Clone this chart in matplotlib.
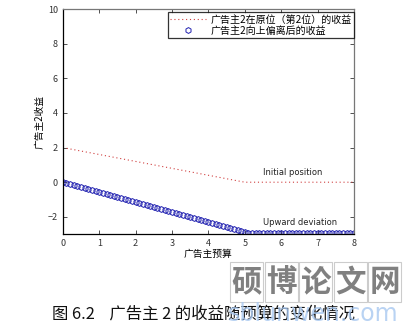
import numpy as np
import matplotlib
matplotlib.use("Agg")
import matplotlib.pyplot as plt
from matplotlib.patches import Rectangle

plt.rcParams['font.family'] = ['Noto Sans CJK SC', 'DejaVu Sans']

budget = np.round(np.arange(0, 8.001, 0.1), 2)

initial_rev = [2.00, 1.96, 1.92, 1.88, 1.84, 1.80, 1.76, 1.72, 1.68, 1.64,
               1.60, 1.56, 1.52, 1.48, 1.44, 1.40, 1.36, 1.32, 1.28, 1.24,
               1.20, 1.16, 1.12, 1.08, 1.04, 1.00, 0.96, 0.92, 0.88, 0.84,
               0.80, 0.76, 0.72, 0.68, 0.64, 0.60, 0.56, 0.52, 0.48, 0.44,
               0.40, 0.36, 0.32, 0.28, 0.24, 0.20, 0.16, 0.12, 0.08, 0.04,
               0.00, 0.00, 0.00, 0.00, 0.00, 0.00, 0.00, 0.00, 0.00, 0.00,
               0.00, 0.00, 0.00, 0.00, 0.00, 0.00, 0.00, 0.00, 0.00, 0.00,
               0.00, 0.00, 0.00, 0.00, 0.00, 0.00, 0.00, 0.00, 0.00, 0.00,
               0.00]

upward_rev = [0.00, -0.06, -0.12, -0.17, -0.23, -0.29, -0.35, -0.41, -0.46, -0.52,
              -0.58, -0.64, -0.70, -0.75, -0.81, -0.87, -0.93, -0.99, -1.04, -1.10,
              -1.16, -1.22, -1.28, -1.33, -1.39, -1.45, -1.51, -1.57, -1.62, -1.68,
              -1.74, -1.80, -1.86, -1.91, -1.97, -2.03, -2.09, -2.15, -2.20, -2.26,
              -2.32, -2.38, -2.44, -2.49, -2.55, -2.61, -2.67, -2.73, -2.78, -2.84,
              -2.90, -2.92, -2.92, -2.92, -2.92, -2.92, -2.92, -2.92, -2.92, -2.92,
              -2.92, -2.92, -2.92, -2.92, -2.92, -2.92, -2.92, -2.92, -2.92, -2.92,
              -2.92, -2.92, -2.92, -2.92, -2.92, -2.92, -2.92, -2.92, -2.92, -2.92,
              -2.92]

legend_labels = ['广告主2在原位（第2位）的收益', '广告主2向上偏离后的收益']
xticks = [0, 1, 2, 3, 4, 5, 6, 7, 8]
yticks = [-2, 0, 2, 4, 6, 8, 10]

fig = plt.figure(figsize=(4.19, 3.35), dpi=100)
ax = fig.add_axes([0.150, 0.301, 0.695, 0.672])

ax.plot(budget, initial_rev, linestyle=(0, (1, 2.5)), color='#d04040', linewidth=0.8,
        label=legend_labels[0])
ax.plot(budget, upward_rev, linestyle='none', marker='h', markersize=4.2,
        markerfacecolor='none', markeredgecolor='#2020b0', markeredgewidth=0.7,
        label=legend_labels[1])

ax.set_xlim(0, 8)
ax.set_ylim(-3, 10)
ax.set_xticks(xticks)
ax.set_yticks(yticks)
ax.tick_params(direction='in', labelsize=6.5, length=3, width=0.6,
               top=True, right=True, colors='#333333')
for s in ['left', 'bottom']:
    ax.spines[s].set_color('black')
    ax.spines[s].set_linewidth(0.9)
for s in ['top', 'right']:
    ax.spines[s].set_color('#777777')
    ax.spines[s].set_linewidth(0.9)

ax.set_xlabel('广告主预算', fontsize=7, labelpad=1)
ax.set_ylabel('广告主2收益', fontsize=7, labelpad=2)

ax.text(5.5, 0.55, 'Initial position', fontsize=6, color='#222222',
        va='center', ha='left', family=['DejaVu Sans'])
ax.text(5.5, -2.3, 'Upward deviation', fontsize=6, color='#222222',
        va='center', ha='left', family=['DejaVu Sans'])

leg = ax.legend(loc='upper right', bbox_to_anchor=(1.0, 0.985), fontsize=7.2,
                frameon=True, fancybox=False, edgecolor='black', borderaxespad=0.0,
                handlelength=3.6, borderpad=0.25, labelspacing=0.05,
                handletextpad=0.4)
leg.get_frame().set_linewidth(0.9)

# Watermark
chars = ['硕', '博', '论', '文', '网']
for i, ch in enumerate(chars):
    x0 = 230 + i * 34.5
    fig.patches.append(Rectangle((x0 / 419, 1 - 302 / 335), 33 / 419, 40 / 335,
                                 transform=fig.transFigure, fill=False,
                                 edgecolor='#cccccc', linewidth=0.8))
    fig.text((x0 + 16.5) / 419, 1 - 282 / 335, ch, fontsize=22, color='#808080',
             ha='center', va='center', fontweight='bold')

fig.text(52 / 419, 1 - 314 / 335, '图 6.2    广告主 2 的收益随预算的变化情况',
         fontsize=11.8, color='#111111', ha='left', va='center')
fig.text(313 / 419, 1 - 314 / 335, 'sblunwen.com', fontsize=17, color='#a8c8f0',
         ha='center', va='center', family=['DejaVu Sans'], alpha=0.8)

fig.savefig('out.png', dpi=100)
